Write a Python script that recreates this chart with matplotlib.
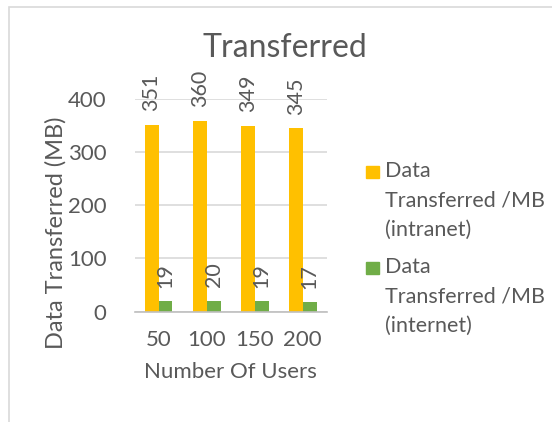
import numpy as np
import matplotlib.pyplot as plt
from matplotlib.patches import Rectangle

plt.rcParams['font.family'] = ['Lato', 'DejaVu Sans']

users = ['50', '100', '150', '200']
intranet = [351, 360, 349, 345]
internet = [19, 20, 19, 17]
series_names = ['Data\nTransferred /MB\n(intranet)', 'Data\nTransferred /MB\n(internet)']
colors = ['#FFC000', '#70AD47']
txt = '#595959'

W, H = 552, 422
fig = plt.figure(figsize=(W / 100, H / 100), dpi=100)
ax = fig.add_axes([134.5 / W, 1 - 311.5 / H, 192.3 / W, 212.2 / H])

x = np.arange(len(users))
bw = 0.29
b1 = ax.bar(x - bw / 2, intranet, bw, color=colors[0], zorder=3)
b2 = ax.bar(x + bw / 2, internet, bw, color=colors[1], zorder=3)

for bars, vals in [(b1, intranet), (b2, internet)]:
    for rect, v in zip(bars, vals):
        ax.annotate(str(v), (rect.get_x() + rect.get_width() / 2, v),
                    xytext=(0, 10), textcoords='offset points',
                    rotation=90, ha='center', va='bottom',
                    fontsize=15.5, color=txt, annotation_clip=False)

ax.set_xlim(-0.5, 3.5)
ax.set_ylim(0, 400)
ax.set_yticks([0, 100, 200, 300, 400])
ax.set_xticks(x)
ax.set_xticklabels(users)
ax.grid(axis='y', color='#d9d9d9', lw=1.2, zorder=0)
for s in ['top', 'right', 'left']:
    ax.spines[s].set_visible(False)
ax.spines['bottom'].set_color('#bfbfbf')
ax.spines['bottom'].set_linewidth(1.2)
ax.spines['bottom'].set_zorder(4)
ax.tick_params(axis='both', length=0, labelsize=16, colors=txt)
ax.tick_params(axis='y', pad=20)
ax.tick_params(axis='x', pad=13)

ax.set_xlabel('Number Of Users', fontsize=16, color=txt, labelpad=9)
fig.text(56 / W, 1 - 233 / H, 'Data Transferred (MB)', rotation=90,
         ha='center', va='center', fontsize=17, color=txt)
fig.text(285 / W, 1 - 48 / H, 'Transferred', ha='center', va='center',
         fontsize=23, color=txt)

# legend drawn by hand so the swatch sits at the first line
for i, (name, c) in enumerate(zip(series_names, colors)):
    yc = 172 + i * 96
    fig.add_artist(Rectangle((366 / W, 1 - (yc + 6) / H), 13 / W, 12 / H,
                             transform=fig.transFigure, color=c))
    fig.text(385 / W, 1 - (yc - 11) / H, name, ha='left', va='top',
             fontsize=15.5, color=txt, linespacing=1.6)

# chart frame
fig.add_artist(Rectangle((9 / W, -0.1), 2, 1.1 - 7 / H, transform=fig.transFigure,
                         fill=False, edgecolor='#d9d9d9', lw=1.2))

fig.savefig('out.png', dpi=100)
